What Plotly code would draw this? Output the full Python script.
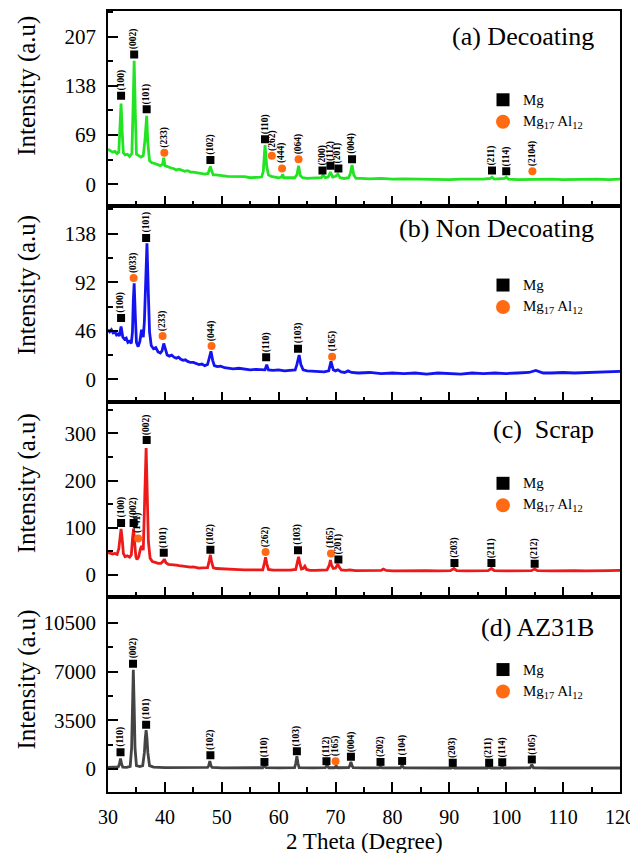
import plotly.graph_objects as go
from plotly.subplots import make_subplots

# ---------------- data ----------------
# (a) Decoating
a_x = [30.0,30.4,30.8,31.2,31.6,31.9,32.1,32.3,32.5,32.7,33.0,33.4,33.8,34.2,34.4,34.6,34.8,35.0,35.4,35.8,
       36.2,36.5,36.8,37.0,37.3,37.7,38.2,38.7,39.2,39.6,39.8,40.0,40.5,41.0,41.5,42.0,42.5,43.0,43.5,44.0,
       44.5,45.0,45.5,46.0,46.5,47.0,47.6,47.8,48.0,48.2,48.5,49.0,49.5,50.0,51,52,53,54,55,56,
       57.0,57.3,57.6,57.9,58.2,58.7,59.2,60.0,60.5,60.7,60.9,61.5,62.0,62.8,63.2,63.5,63.8,64.2,65.0,66.0,
       67.0,67.5,67.8,68.2,68.7,69.1,69.5,70.0,70.4,70.8,71.5,72.3,72.6,72.9,73.2,73.6,74.5,76,78,80,
       82,84,86,88,90,92,94,96,97.2,97.5,97.9,99.0,99.7,100.0,100.4,102,104,106,108,110,
       112,114,116,118,120]
a_y = [49,47,45,46,43,45,75,113,72,44,41,42,39,43,105,173,100,42,40,38,
       40,62,96,58,33,30,29,27,26,28,37,26,24,23,22,20,21,19,18,19,
       17,17,16,15,15,14,15,20,25,19,13,13,12,12,11,11,10,10.5,9,9.5,
       10,18,55,25,13,11,10,9,10,14,9,9,8.5,9,13,26,12,9,8,8.5,
       8,9,13,9,10,17,10,11,14,9,8,9,15,27,13,8,8,7.5,8,7,
       7.5,7,7.5,7,6.5,7,6.5,7,8,10,7,7,8,10,7,6.5,7,6.5,7,6.5,
       7,6.5,7,6.5,7]
a_mg_x = [32.3, 34.6, 36.8, 48.0, 57.6, 67.7, 69.1, 70.5, 72.9, 97.5, 100.0]
a_mg_y = [124, 182, 105, 34, 63, 19, 26, 22, 35, 19, 18]
a_mg_lab = ["(100)", "(002)", "(101)", "(102)", "(110)", "(200)", "(112)", "(201)", "(004)", "(211)", "(114)"]
a_al_x = [39.9, 58.8, 60.6, 63.5, 104.6]
a_al_y = [44, 40, 22, 35, 18]
a_al_lab = ["(233)", "(262)", "(444)", "(064)", "(2104)"]

# (b) Non Decoating
b_x = [30.0,30.3,30.6,30.9,31.2,31.5,31.8,32.0,32.3,32.6,32.9,33.2,33.5,33.8,34.1,34.3,34.45,34.6,34.8,35.0,
       35.3,35.6,35.9,36.2,36.4,36.6,36.85,37.1,37.3,37.6,38.0,38.4,38.8,39.2,39.5,39.8,40.1,40.4,40.8,41.2,
       41.6,42.0,42.4,42.8,43.2,43.6,44.0,44.5,45.0,45.5,46.0,46.5,47.0,47.5,47.8,48.1,48.4,48.7,49.2,49.8,
       50.5,51,52,53,54,55,56,57,57.6,57.9,58.2,59,60,61,62,62.9,63.2,63.6,63.9,64.3,
       65,66,67,68,68.8,69.2,69.6,70.0,70.4,71,71.6,72.2,72.8,74,76,78,80,82,84,86,
       88,90,92,94,96,98,100,102,104,105.2,105.8,106.5,108,110,112,114,116,118,120]
b_y = [47,45,47,44,45,42,43,41,50,40,38,39,35,36,34,45,75,91,60,35,
       31,36,47,40,55,95,129,80,45,32,29,30,26,25,27,34,27,23,22,23,
       21,20,21,19,18,18.5,17,16,16,15,14,14.5,13,14,20,26.6,18,13,12,12.5,
       11,10.5,10,10.5,9.5,9,9.5,9,9,14,9,8.5,9,8,8.5,9,14,23,14,9,
       8,7.5,7,7,8,17,9,8,9,7,6.5,8,6.5,6,6.5,5.5,6,5.5,6,5,
       6,5.5,5,6,5.5,6,5.5,6,6.5,8.5,7.5,6,6,6.5,6,6.5,6.5,7,7.5]
b_mg_x = [32.3, 36.7, 57.8, 63.4]
b_mg_y = [58, 134, 21, 29]
b_mg_lab = ["(100)", "(101)", "(110)", "(103)"]
b_al_x = [34.5, 39.6, 48.2, 69.4]
b_al_y = [96, 41, 31.5, 21.5]
b_al_lab = ["(033)", "(233)", "(044)", "(165)"]

# (c) Scrap
c_x = [30.0,30.4,30.8,31.2,31.6,31.9,32.1,32.3,32.5,32.7,33.0,33.4,33.8,34.1,34.3,34.5,34.7,34.9,35.1,35.4,
       35.7,35.95,36.2,36.4,36.7,36.9,37.1,37.4,37.8,38.3,38.8,39.3,39.6,39.9,40.2,40.6,41.0,41.5,42.0,42.5,
       43.0,43.5,44.0,44.5,45.0,45.5,46.0,46.5,47.0,47.5,47.8,48.0,48.2,48.5,49.0,49.5,50.0,51,52,53,
       54,55,56,57.2,57.5,57.7,57.9,58.2,59,60,61,62,63.0,63.3,63.5,63.7,64.0,64.3,64.6,64.9,
       65.5,66.5,67.5,68.5,68.9,69.1,69.3,69.6,70.0,70.4,70.7,71.0,71.8,72.5,73.5,75,76.5,78.0,78.4,78.9,
       80,82,84,86,88,90.2,90.8,91.3,93,95,96.8,97.4,97.9,100,102,104.4,105.0,105.5,108,110,
       112,114,116,118,120]
c_y = [47,46,44,45,43,55,80,97,75,45,38,40,37,42,75,98,65,38,32,38,
       55,61,52,130,269,170,70,35,28,26,24,24,27,33,25,22,21,20,20,19,
       18,18.5,17,16,16.5,15,14,14.5,14,15,30,42,28,15,13,12.5,12,11.5,11,10.5,
       10,10,9.5,10,25,37,24,11,9.5,9,9,9.5,11,28,38,25,12,13,18,11,
       9,9,9.5,10,20,31,20,13,14,22,15,10,9,10,8.5,8.5,9,9,12,9,
       8,8.5,8,8.5,8,8.5,13,8.5,8,8.5,8.5,13,8.5,8,8.5,8.5,12,8.5,8,9,
       8.5,8,9,8.5,9]
c_mg_x = [32.3, 34.5, 36.8, 39.8, 48.0, 63.4, 70.5, 90.9, 97.4, 105.0]
c_mg_y = [110, 110, 286, 46.5, 53, 52, 32, 25, 25, 23]
c_mg_lab = ["(100)", "(002)", "(002)", "(101)", "(102)", "(103)", "(201)", "(203)", "(211)", "(212)"]
c_al_x = [35.3, 57.7, 69.2]
c_al_y = [77, 48, 45]
c_al_lab = ["(141)", "(262)", "(165)"]

# (d) AZ31B
d_x = [30.0,31.0,31.8,32.0,32.2,32.4,32.6,33.3,33.9,34.15,34.3,34.45,34.6,34.75,35.0,35.6,36.1,36.4,36.55,36.7,
       36.85,37.0,37.3,38.0,40,42,44,46,47.5,47.7,47.9,48.1,48.3,50,53,56,57.2,57.5,57.8,60,
       62.8,63.0,63.2,63.4,63.6,66,68.2,68.5,68.8,69.8,70.1,70.4,72.3,72.5,72.7,72.9,73.1,75,77.6,77.9,
       78.2,81.4,81.7,82.0,85,88,90.3,90.6,90.9,94,96.7,97.0,97.3,99.0,99.3,99.6,102,104.2,104.5,104.8,
       108,112,116,120]
d_y = [120,120,160,350,760,350,150,130,200,1500,4500,7120,4500,1500,250,180,250,1200,2200,2790,
       2200,1200,250,140,110,100,100,100,120,250,570,250,120,90,90,90,100,250,100,90,
       110,400,930,400,110,90,100,280,100,100,220,100,110,250,520,250,100,90,90,180,
       90,90,280,90,80,80,80,230,80,80,80,180,80,80,240,80,80,90,330,90,
       80,80,80,80]
d_mg_x = [32.2, 34.4, 36.7, 48.0, 57.5, 63.2, 68.4, 72.7, 77.9, 81.7, 90.6, 97.0, 99.3, 104.5]
d_mg_y = [1210, 7550, 3190, 1000, 520, 1290, 570, 880, 520, 590, 450, 450, 500, 690]
d_mg_lab = ["(110)", "(002)", "(101)", "(102)", "(110)", "(103)", "(112)", "(004)", "(202)", "(104)",
            "(203)", "(211)", "(114)", "(105)"]
d_al_x = [70.0]
d_al_y = [570]
d_al_lab = ["(165)"]

panel_titles = ["(a) Decoating", "(b) Non Decoating", "(c)  Scrap", "(d) AZ31B"]
y_dtick = [69, 46, 100, 3500]
y_range = [[-31, 243], [-21, 164], [-47, 368], [-1640, 12360]]
x_tick_vals = [30, 40, 50, 60, 70, 80, 90, 100, 110, 120]
legend_labels = ["Mg", "Mg<sub>17</sub> Al<sub>12</sub>"]

# ---------------- styling / layout ----------------
line_colors = ["#22e422", "#1414f0", "#ee1a1a", "#444444"]
orange = "#ff6a12"
FONT = "Liberation Serif"

OFF = 8                      # page body margin of the html page
W = 638 - OFF
H = 865 - 2 * OFF - 4        # a little slack so the page never scrolls
L = 108 - OFF                # plot left edge (screen 108)
T = 9 - OFF                  # plot top edge (screen 9)
R = W - (620 - OFF)          # plot right edge (screen 620)
B = H - (792 - OFF)          # plot bottom edge (screen 792)
PW = W - L - R
PH = (H - T - B) / 4.0

panels = [
    (a_x, a_y, a_mg_x, a_mg_y, a_mg_lab, a_al_x, a_al_y, a_al_lab),
    (b_x, b_y, b_mg_x, b_mg_y, b_mg_lab, b_al_x, b_al_y, b_al_lab),
    (c_x, c_y, c_mg_x, c_mg_y, c_mg_lab, c_al_x, c_al_y, c_al_lab),
    (d_x, d_y, d_mg_x, d_mg_y, d_mg_lab, d_al_x, d_al_y, d_al_lab),
]
title_off = [26, 22, 28, 31]
legend_off = [89, 79, 82, 73]
ytitle_off = [75, 79, 82, 83]

fig = make_subplots(rows=4, cols=1, shared_xaxes=True, vertical_spacing=0)

annotations = []
shapes = []


def dx(px_screen):
    return (px_screen - OFF - L) / PW


def dy(py_in_panel):
    return 1 - py_in_panel / PH


for i, (xs, ys, mx, my, ml, ax_, ay_, al) in enumerate(panels):
    row = i + 1
    sfx = "" if row == 1 else str(row)
    fig.add_trace(go.Scatter(x=xs, y=ys, mode="lines",
                             line=dict(color=line_colors[i], width=2.8),
                             showlegend=False, hoverinfo="skip"), row=row, col=1)
    fig.add_trace(go.Scatter(x=mx, y=my, mode="markers",
                             marker=dict(symbol="square", size=8, color="black"),
                             showlegend=False), row=row, col=1)
    fig.add_trace(go.Scatter(x=ax_, y=ay_, mode="markers",
                             marker=dict(symbol="circle", size=8, color=orange),
                             showlegend=False), row=row, col=1)
    for xv, yv, lab in list(zip(mx, my, ml)) + list(zip(ax_, ay_, al)):
        annotations.append(dict(x=xv, y=yv, xref="x" + sfx, yref="y" + sfx,
                                text="<b>" + lab + "</b>", textangle=-90, showarrow=False,
                                xanchor="center", yanchor="bottom", yshift=4, borderpad=0,
                                font=dict(family=FONT, size=9.5, color="black")))
    xd = "x" + sfx + " domain"
    yd = "y" + sfx + " domain"
    annotations.append(dict(x=dx(596), y=dy(title_off[i]), xref=xd, yref=yd,
                            text=panel_titles[i], showarrow=False, xanchor="right", yanchor="middle",
                            font=dict(family=FONT, size=26, color="black")))
    annotations.append(dict(x=dx(27), y=dy(ytitle_off[i]), xref=xd, yref=yd,
                            text="Intensity (a.u)", textangle=-90, showarrow=False,
                            xanchor="center", yanchor="middle",
                            font=dict(family=FONT, size=25, color="black")))
    cy1 = legend_off[i]
    cy2 = legend_off[i] + 22
    shapes.append(dict(type="rect", xref=xd, yref=yd,
                       x0=dx(503 - 6.5), x1=dx(503 + 6.5), y0=dy(cy1 + 6.5), y1=dy(cy1 - 6.5),
                       fillcolor="black", line=dict(width=0)))
    shapes.append(dict(type="circle", xref=xd, yref=yd,
                       x0=dx(503 - 7), x1=dx(503 + 7), y0=dy(cy2 + 7), y1=dy(cy2 - 7),
                       fillcolor=orange, line=dict(width=0)))
    for cy, lab in ((cy1, legend_labels[0]), (cy2, legend_labels[1])):
        annotations.append(dict(x=dx(521), y=dy(cy), xref=xd, yref=yd, text=lab,
                                showarrow=False, xanchor="left", yanchor="middle",
                                font=dict(family=FONT, size=15, color="black")))

    fig.update_yaxes(row=row, col=1, range=y_range[i], tick0=0, dtick=y_dtick[i],
                     tickformat="d",
                     ticks="inside", ticklen=10, tickwidth=1.5, tickcolor="black",
                     minor=dict(ticks="inside", ticklen=5, dtick=y_dtick[i] / 2, tick0=0,
                                tickcolor="black", tickwidth=1.5),
                     showline=True, mirror=True, linecolor="black", linewidth=1.8,
                     showgrid=False, zeroline=False, ticklabelstandoff=6,
                     tickfont=dict(family=FONT, size=21, color="black"))
    fig.update_xaxes(row=row, col=1, range=[30, 120], tickvals=x_tick_vals,
                     ticks="inside", ticklen=10, tickwidth=1.5, tickcolor="black",
                     minor=dict(ticks="inside", ticklen=5, dtick=5, tick0=30,
                                tickcolor="black", tickwidth=1.5),
                     showline=True, mirror=True, linecolor="black", linewidth=1.8,
                     showgrid=False, zeroline=False, ticklabelstandoff=6,
                     ticklabeloverflow="allow",
                     tickfont=dict(family=FONT, size=20, color="black"))

annotations.append(dict(x=0.5, y=-(842 - 792) / (H - T - B), xref="paper", yref="paper",
                        text="2 Theta (Degree)", showarrow=False, xanchor="center", yanchor="middle",
                        font=dict(family=FONT, size=23, color="black")))

fig.update_layout(width=W, height=H, margin=dict(l=L, r=R, t=T, b=B),
                  plot_bgcolor="white", paper_bgcolor="white",
                  showlegend=False, annotations=annotations, shapes=shapes,
                  font=dict(family=FONT, color="black"))

fig.write_html("out.html")
